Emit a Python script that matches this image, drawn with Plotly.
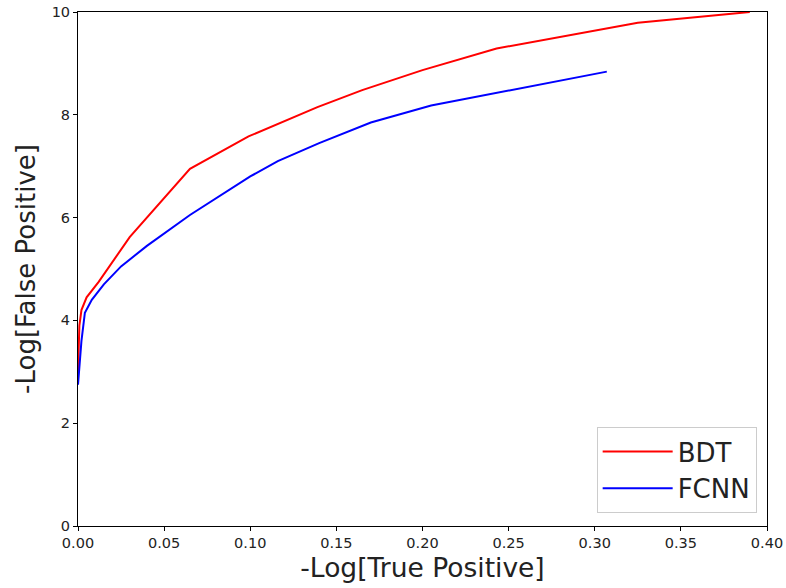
import plotly.graph_objects as go

bdt_x = [0.0, 0.0008, 0.002, 0.005, 0.012, 0.030, 0.065, 0.099, 0.139, 0.165, 0.200, 0.243, 0.325, 0.390]
bdt_y = [3.0, 3.9, 4.2, 4.45, 4.75, 5.62, 6.95, 7.58, 8.15, 8.48, 8.87, 9.29, 9.79, 10.0]

fcnn_x = [0.0, 0.002, 0.004, 0.008, 0.015, 0.025, 0.040, 0.065, 0.100, 0.116, 0.140, 0.170, 0.205, 0.307]
fcnn_y = [2.75, 3.6, 4.15, 4.4, 4.7, 5.05, 5.45, 6.05, 6.8, 7.1, 7.45, 7.85, 8.18, 8.84]

fig = go.Figure()
fig.add_trace(go.Scatter(x=bdt_x, y=bdt_y, mode="lines", name="BDT",
                         line=dict(color="#ff0000", width=2)))
fig.add_trace(go.Scatter(x=fcnn_x, y=fcnn_y, mode="lines", name="FCNN",
                         line=dict(color="#0000ff", width=2)))

axis_common = dict(showline=True, linecolor="black", linewidth=1, mirror=True,
                   ticks="outside", ticklen=4, tickcolor="black", showgrid=False,
                   zeroline=False, automargin=False,
                   tickfont=dict(size=14.5, color="#222222"))

fig.update_layout(
    width=786, height=588,
    margin=dict(l=78, r=19, t=12, b=62),
    paper_bgcolor="white", plot_bgcolor="white",
    font=dict(family="DejaVu Sans", color="black"),
    xaxis=dict(range=[0, 0.40], tickvals=[0, 0.05, 0.1, 0.15, 0.2, 0.25, 0.3, 0.35, 0.4],
               tickformat=".2f",
               title=dict(text="-Log[True Positive]", font=dict(size=26.5, color="#222222"), standoff=8),
               **axis_common),
    yaxis=dict(range=[0, 10], tickvals=[0, 2, 4, 6, 8, 10],
               title=dict(text="-Log[False Positive]", font=dict(size=26, color="#222222"), standoff=8),
               **axis_common),
    legend=dict(x=0.985, y=0.025, xanchor="right", yanchor="bottom",
                font=dict(size=26, color="#222222"), bgcolor="rgba(255,255,255,0.8)",
                bordercolor="#cccccc", borderwidth=1, itemwidth=70,
                tracegroupgap=2),
    showlegend=True,
)

fig.write_html("out.html")
